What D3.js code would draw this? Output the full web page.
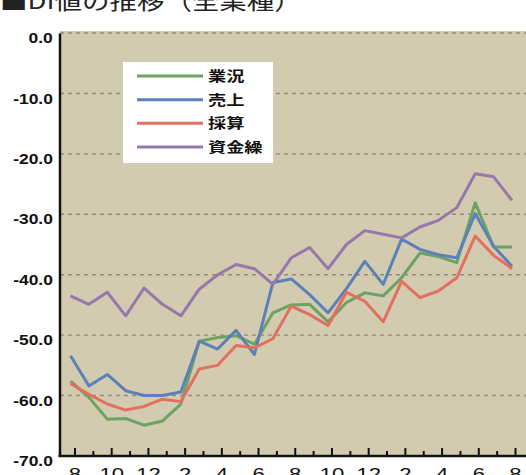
<!DOCTYPE html>
<html><head><meta charset="utf-8">
<script src="https://cdn.jsdelivr.net/npm/d3@7"></script>
<style>body{margin:0;background:#fff;overflow:hidden} svg{display:block}</style>
</head><body>
<svg id="c" width="526" height="475"></svg>
<script>
// ---- data ----
const monthIdx = d3.range(25); // Aug .. Aug (two years, monthly)
const tickLabels = ["8","10","12","2","4","6","8","10","12","2","4","6","8"];
const yTicks = [0,-10,-20,-30,-40,-50,-60,-70];
const seriesNames = ["業況","売上","採算","資金繰"];
const gyoukyou = [-57.6,-60.3,-63.9,-63.8,-64.9,-64.2,-61.4,-51.0,-50.4,-50.1,-51.5,-46.3,-45.0,-44.9,-47.8,-44.6,-43.0,-43.5,-40.5,-36.4,-37.0,-38.0,-28.1,-35.4,-35.4];
const uriage   = [-53.4,-58.4,-56.5,-59.2,-60.0,-60.0,-59.4,-51.0,-52.3,-49.2,-53.2,-41.3,-40.7,-43.3,-46.3,-42.3,-37.8,-41.6,-34.1,-35.8,-36.7,-37.2,-29.9,-35.3,-38.6];
const saisan   = [-58.0,-59.8,-61.4,-62.4,-61.8,-60.6,-61.0,-55.6,-55.0,-51.7,-52.1,-50.6,-45.2,-46.6,-48.4,-42.9,-44.4,-47.8,-41.1,-43.8,-42.7,-40.5,-33.6,-36.8,-39.0];
const shikinguri = [-43.5,-44.9,-42.9,-46.8,-42.2,-44.9,-46.8,-42.4,-40.0,-38.3,-39.0,-41.6,-37.2,-35.5,-39.0,-35.0,-32.7,-33.3,-33.9,-32.1,-31.0,-28.9,-23.3,-23.8,-27.7];
const seriesValues = [gyoukyou, uriage, saisan, shikinguri];
const colors = ["#6ca362","#5c80b8","#e2705f","#9579aa"];

// ---- layout ----
const svg = d3.select("#c");
const plotL = 60, plotR = 526, plotT = 31, plotB = 456;
const y = d3.scaleLinear().domain([-70, 0]).range([456, 33]);
const x = d3.scaleLinear().domain([0, 24]).range([70.5, 512]);
const xt = d3.scaleLinear().domain([0, 24]).range([74.5, 515]);

// title (partially cut off at top)
svg.append("text")
  .attr("transform","translate(0,8.5) scale(1.25,1)")
  .attr("font-family","'Noto Sans CJK JP'")
  .attr("font-size",22).attr("fill","#222")
  .text("■DI値の推移（全業種）");

// plot background
svg.append("rect").attr("x",plotL).attr("y",plotT)
  .attr("width",plotR-plotL).attr("height",plotB-plotT).attr("fill","#d3cbb0");

// gridlines
svg.append("g").selectAll("line").data(yTicks.filter(d=>d>-70)).join("line")
  .attr("x1",plotL).attr("x2",plotR)
  .attr("y1",d=>y(d)).attr("y2",d=>y(d))
  .attr("stroke","#8f8a78").attr("stroke-width",1.4).attr("stroke-dasharray","4,4");

// series lines
const line = d3.line().x((d,i)=>x(monthIdx[i])).y(d=>y(d));
svg.append("g").selectAll("path").data(seriesValues).join("path")
  .attr("d",d=>line(d)).attr("fill","none")
  .attr("stroke",(d,i)=>colors[i]).attr("stroke-width",3)
  .attr("stroke-linejoin","round");

// y axis
const yAxis = svg.append("g").attr("transform",`translate(${plotL-0.5},0)`)
  .call(d3.axisLeft(y).tickValues(yTicks).tickSize(0).tickFormat(d=>d.toFixed(1)));
yAxis.select(".domain").attr("stroke","#111").attr("stroke-width",2.5);
yAxis.selectAll("text")
  .attr("font-family","'Liberation Sans', Arial, sans-serif")
  .attr("font-weight","bold").attr("font-size",14.5).attr("fill","#111")
  .attr("x",-5.6).attr("y",5).attr("transform","scale(1.2,1)");

// x axis: minor and major ticks pointing up
const xMinor = svg.append("g").attr("transform",`translate(0,${plotB})`)
  .call(d3.axisBottom(xt).tickValues(monthIdx.filter(i=>i%2===1)).tickSizeInner(-5).tickSizeOuter(0).tickFormat(""));
xMinor.select(".domain").remove();
xMinor.selectAll("line").attr("stroke","#111").attr("stroke-width",2);
const xMajor = svg.append("g").attr("transform",`translate(0,${plotB})`)
  .call(d3.axisBottom(xt).tickValues(monthIdx.filter(i=>i%2===0)).tickSizeInner(-8).tickSizeOuter(0).tickPadding(12)
    .tickFormat((d,i)=>tickLabels[i]));
xMajor.select(".domain").remove();
xMajor.selectAll("line").attr("stroke","#111").attr("stroke-width",2);
xMajor.selectAll("text")
  .attr("font-family","'Liberation Sans', Arial, sans-serif")
  .attr("font-size",17).attr("fill","#111").attr("transform","scale(1.3,1)");
xMajor.selectAll(".tick text").attr("x",0);
svg.append("line").attr("x1",plotL-1.5).attr("x2",plotR).attr("y1",plotB).attr("y2",plotB)
  .attr("stroke","#111").attr("stroke-width",2.5);

// legend
const lg = svg.append("g");
lg.append("rect").attr("x",123).attr("y",62).attr("width",150).attr("height",101).attr("fill","#fff");
const legendY = d3.scalePoint().domain(seriesNames).range([76,147]);
const items = lg.selectAll("g.item").data(seriesNames).join("g").attr("class","item")
  .attr("transform",d=>`translate(0,${legendY(d)})`);
items.append("line").attr("x1",137).attr("x2",203).attr("y1",0).attr("y2",0)
  .attr("stroke",(d,i)=>colors[i]).attr("stroke-width",3);
items.append("text").attr("transform","translate(208,5) scale(1.3,1)")
  .attr("font-family","'Noto Sans CJK JP'").attr("font-weight","bold")
  .attr("font-size",14).attr("fill","#111").text(d=>d);
</script>
</body></html>
